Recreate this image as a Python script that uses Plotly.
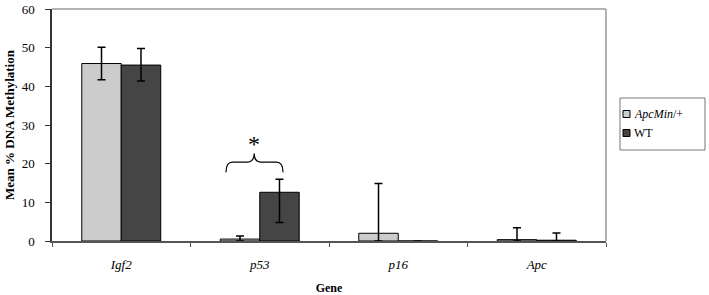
import plotly.graph_objects as go

genes = ["<i>Igf2</i>", "<i>p53</i>", "<i>p16</i>", "<i>Apc</i>"]
apcmin_vals = [45.9, 0.5, 2.0, 0.35]
apcmin_err_plus = [4.2, 0.8, 12.9, 3.1]
apcmin_err_minus = [4.2, 0.5, 2.0, 0.35]
wt_vals = [45.5, 12.6, 0.0, 0.2]
wt_err_plus = [4.3, 3.4, 0.0, 1.9]
wt_err_minus = [4.1, 7.8, 0.0, 0.2]
series_names = ["<i>ApcMin</i>/+", "WT"]
series_colors = ["#cccccc", "#454545"]

FONT = "Liberation Serif, Times New Roman, serif"

fig = go.Figure()
fig.add_trace(go.Bar(
    name=series_names[0], x=genes, y=apcmin_vals, showlegend=False,
    marker=dict(color=series_colors[0], line=dict(color="#000000", width=1)),
    error_y=dict(type="data", symmetric=False, array=apcmin_err_plus,
                 arrayminus=apcmin_err_minus, color="#000000", thickness=1.5, width=4),
))
fig.add_trace(go.Bar(
    name=series_names[1], x=genes, y=wt_vals, showlegend=False,
    marker=dict(color=series_colors[1], line=dict(color="#000000", width=1)),
    error_y=dict(type="data", symmetric=False, array=wt_err_plus,
                 arrayminus=wt_err_minus, color="#000000", thickness=1.5, width=4),
))

# plot area frame (top/right gray)
fig.add_shape(type="line", xref="paper", yref="paper", x0=0, x1=1, y0=1, y1=1,
              line=dict(color="#9a9a9a", width=1.5))
fig.add_shape(type="line", xref="paper", yref="paper", x0=1, x1=1, y0=0, y1=1,
              line=dict(color="#9a9a9a", width=1.5))

# significance brace
x0, xm, x1 = 0.314, 0.365, 0.417
ylow, ymid, ytop = 17.8, 20.4, 22.6
d = 0.012
path = (f"M {x0},{ylow} Q {x0},{ymid} {x0+d},{ymid} L {xm-d},{ymid} "
        f"Q {xm},{ymid} {xm},{ytop} Q {xm},{ymid} {xm+d},{ymid} "
        f"L {x1-d},{ymid} Q {x1},{ymid} {x1},{ylow}")
fig.add_shape(type="path", xref="paper", yref="y", path=path,
              line=dict(color="#000000", width=1.2))
fig.add_annotation(xref="paper", yref="y", x=xm, y=25.2, text="*", showarrow=False,
                   font=dict(family=FONT, size=24, color="#000000"))

# custom legend (pixel -> paper, plot area at 52..606 x 9..241)
def px_x(p):
    return (p - 52) / 554.0

def px_y(p):
    return (241 - p) / 232.0

fig.add_shape(type="rect", xref="paper", yref="paper",
              x0=px_x(620), x1=px_x(705), y0=px_y(150), y1=px_y(98),
              line=dict(color="#777777", width=1), fillcolor="white")
for i, (nm, col) in enumerate(zip(series_names, series_colors)):
    cy = 114 + i * 19
    fig.add_shape(type="rect", xref="paper", yref="paper",
                  x0=px_x(623), x1=px_x(630), y0=px_y(cy + 3.5), y1=px_y(cy - 3.5),
                  line=dict(color="#000000", width=1), fillcolor=col)
    fig.add_annotation(xref="paper", yref="paper", x=px_x(632), y=px_y(cy),
                       xanchor="left", yanchor="middle", text=nm, showarrow=False,
                       font=dict(family=FONT, size=12, color="#000000"))

fig.update_layout(
    width=709, height=295,
    margin=dict(l=52, r=103, t=9, b=54),
    paper_bgcolor="white", plot_bgcolor="white",
    barmode="group", bargap=0.43, bargroupgap=0,
    font=dict(family=FONT, size=12, color="#000000"),
    showlegend=False,
    xaxis=dict(
        automargin=False,
        showline=True, linecolor="#555555", linewidth=1.5,
        ticks="outside", tickson="boundaries", ticklen=4, tickcolor="#555555",
        tickfont=dict(family=FONT, size=13),
        ticklabelstandoff=11,
        title=dict(text="<b>Gene</b>", font=dict(family=FONT, size=12), standoff=14),
    ),
    yaxis=dict(
        automargin=False,
        range=[0, 60], dtick=10, showgrid=False, zeroline=False,
        showline=True, linecolor="#333333", linewidth=1.5,
        ticks="outside", ticklen=5, tickcolor="#333333",
        tickfont=dict(family=FONT, size=13),
        ticklabelstandoff=8,
        title=dict(text="<b>Mean % DNA Methylation</b>", font=dict(family=FONT, size=13), standoff=4),
    ),
)

# remove the default 8px page margin so the figure sits at the window origin
fig.write_html("out.html", config={"displayModeBar": False},
               post_script="document.body.style.margin='0';")
